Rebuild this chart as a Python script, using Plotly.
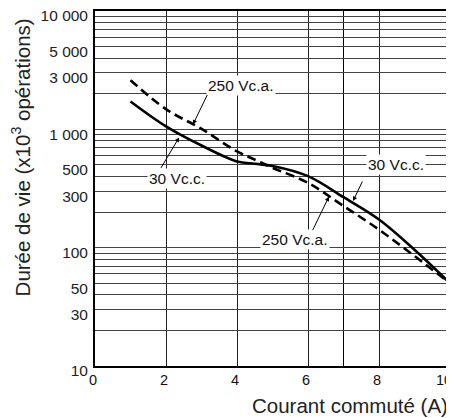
import math
import plotly.graph_objects as go

# ---- data ----
current_a = [1, 2, 3, 4, 4.5, 5, 6, 7, 8, 9, 10]
life_250vac = [2600, 1480, 1010, 650, 555, 473, 353, 225, 142, 85, 50]
life_30vdc = [1720, 1060, 730, 535, 512, 490, 402, 267, 173, 96, 50]

x_ticks = [0, 2, 4, 6, 8, 10]
x_tick_text = ["0", "2", "4", "6", "8", "10"]
y_label_vals = [10, 30, 50, 100, 300, 500, 1000, 3000, 5000, 10000]
y_label_text = ["10", "30", "50", "100", "300", "500", "1 000", "3 000", "5 000", "10 000"]

# labels: text, text position (x, y), arrow head (x, y), arrow tail offset px
labels = ["250 Vc.a.", "30 Vc.c.", "30 Vc.c.", "250 Vc.a."]
label_x = [4.11, 2.31, 8.48, 5.63]
label_y = [2360, 385, 505, 117]
head_x = [2.76, 2.37, 7.27, 6.59]
head_y = [1100, 855, 248, 270]
tail_dx = [15, -19, 10, -17]
tail_dy = [-31, 32, -21, 35]

FONT = "Liberation Sans, Arial, sans-serif"

# all log grid values 1..9 per decade
y_grid = []
for d in [10, 100, 1000]:
    for m in range(1, 10):
        y_grid.append(m * d)
y_grid.append(10000)
y_text = [y_label_text[y_label_vals.index(v)] if v in y_label_vals else "" for v in y_grid]

fig = go.Figure()
fig.add_trace(go.Scatter(
    x=current_a, y=life_250vac, mode="lines", name="250 Vc.a.",
    line=dict(color="black", width=2.6, dash="9px,5px", shape="spline", smoothing=1.0),
    showlegend=False))
fig.add_trace(go.Scatter(
    x=current_a, y=life_30vdc, mode="lines", name="30 Vc.c.",
    line=dict(color="black", width=2.6, shape="spline", smoothing=1.0),
    showlegend=False))

annotations = []
for t, lx, ly in zip(labels, label_x, label_y):
    annotations.append(dict(
        x=lx, y=math.log10(ly), xref="x", yref="y", text=t, showarrow=False,
        font=dict(family=FONT, size=15.5, color="#111"), bgcolor="white", borderpad=1))
for hx, hy, dx, dy in zip(head_x, head_y, tail_dx, tail_dy):
    annotations.append(dict(
        x=hx, y=math.log10(hy), xref="x", yref="y", text="", showarrow=True,
        ax=dx, ay=dy, arrowhead=2, arrowsize=0.9, arrowwidth=1, arrowcolor="black"))

annotations.append(dict(
    x=1.0, y=-0.110, xref="paper", yref="paper", xanchor="right", yanchor="middle",
    text="Courant commuté (A)", showarrow=False,
    font=dict(family=FONT, size=20.5, color="#222")))
annotations.append(dict(
    x=-0.209, y=0.587, xref="paper", yref="paper", xanchor="center", yanchor="middle",
    text="Durée de vie (x10<sup>3</sup> opérations)", textangle=-90, showarrow=False,
    font=dict(family=FONT, size=20.5, color="#222")))

fig.update_layout(
    width=446, height=410,
    margin=dict(l=87, r=4, t=3, b=52),
    paper_bgcolor="white", plot_bgcolor="white",
    font=dict(family=FONT, size=15, color="#222"),
    annotations=annotations,
)
fig.update_xaxes(
    range=[0, 10], tickvals=x_ticks, ticktext=x_tick_text,
    showgrid=True, gridcolor="#222", gridwidth=1,
    minor=dict(tickvals=[7], showgrid=True, gridcolor="black", gridwidth=1.3),
    showline=True, linecolor="black", linewidth=1.8, mirror=True,
    ticks="", tickfont=dict(family=FONT, size=14.5, color="#111"),
    ticklabelposition="outside left", ticklabelshift=3,
    ticklabeloverflow="allow",
    zeroline=False, automargin=False,
)
fig.update_yaxes(
    type="log", range=[1, 4], tickvals=y_grid, ticktext=y_text,
    showgrid=True, gridcolor="#444", gridwidth=1,
    showline=True, linecolor="black", linewidth=1.8, mirror=True,
    ticks="", tickfont=dict(family=FONT, size=15.5, color="#222"),
    ticklabelshift=5, ticklabelstandoff=2, ticklabeloverflow="allow",
    zeroline=False, automargin=False,
)

fig.write_html("out.html")
